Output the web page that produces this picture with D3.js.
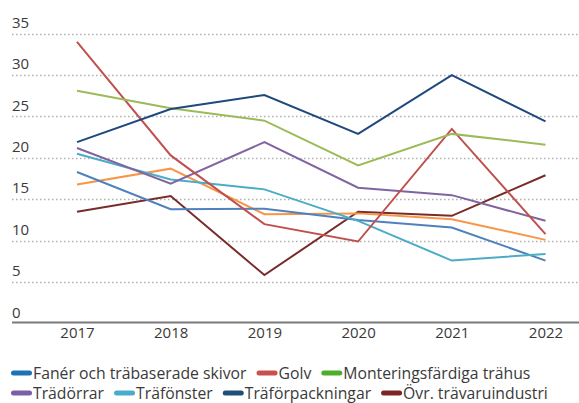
<!DOCTYPE html>
<html>
<head>
<meta charset="utf-8">
<script src="https://cdn.jsdelivr.net/npm/d3@7"></script>
<style>
  body { margin: 0; background: #fff; }
  svg { display: block; font-family: "Open Sans", Roboto, sans-serif; }
</style>
</head>
<body>
<svg width="579" height="403"></svg>
<script>
var years = ["2017", "2018", "2019", "2020", "2021", "2022"];
var yTicks = [0, 5, 10, 15, 20, 25, 30, 35];

var faner = [18.3, 13.8, 13.85, 12.5, 11.6, 7.6];
var golv = [34.0, 20.3, 12.0, 9.9, 23.5, 10.8];
var montering = [28.1, 26.0, 24.5, 19.1, 22.9, 21.6];
var tradorrar = [21.2, 16.9, 21.9, 16.4, 15.5, 12.4];
var trafonster = [20.5, 17.4, 16.2, 12.4, 7.6, 8.4];
var traforpack = [21.9, 25.9, 27.6, 22.9, 30.0, 24.4];
var ovrigt = [13.5, 15.4, 5.85, 13.5, 13.0, 17.9];
var orange = [16.8, 18.7, 13.2, 13.3, 12.6, 10.1]; // line without a legend entry

// draw order: back to front
var series = [
    { name: "Övr. trävaruindustri", values: ovrigt, line: "#772c2a", key: "#7b2525" },
    { name: "", values: orange, line: "#f79646", key: null },
    { name: "Fanér och träbaserade skivor", values: faner, line: "#4f81bd", key: "#1a73b8" },
    { name: "Träfönster", values: trafonster, line: "#4bacc6", key: "#4aaccc" },
    { name: "Trädörrar", values: tradorrar, line: "#8064a2", key: "#7a5ea8" },
    { name: "Golv", values: golv, line: "#c0504d", key: "#c9504f" },
    { name: "Monteringsfärdiga trähus", values: montering, line: "#9bbb59", key: "#4cae2a" },
    { name: "Träförpackningar", values: traforpack, line: "#1f497d", key: "#1f4e79" }
];

var legendRows = [
    ["Fanér och träbaserade skivor", "Golv", "Monteringsfärdiga trähus"],
    ["Trädörrar", "Träfönster", "Träförpackningar", "Övr. trävaruindustri"]
];

var svg = d3.select("svg");

var x = d3.scalePoint()
    .domain(years)
    .range([77, 545.5]);

var y = d3.scaleLinear()
    .domain([0, 35])
    .range([323.5, 33.7]);

// dotted grid lines, labels sit above them
var grid = svg.append("g");
grid.selectAll("line")
    .data(yTicks.filter(function(d) { return d > 0; }))
    .enter().append("line")
    .attr("x1", 12)
    .attr("x2", 579)
    .attr("y1", function(d) { return Math.round(y(d)) + 0.5; })
    .attr("y2", function(d) { return Math.round(y(d)) + 0.5; })
    .attr("stroke", "#b0b0b0")
    .attr("stroke-width", 1.5)
    .attr("stroke-dasharray", "1.5,2.5");

grid.selectAll("text")
    .data(yTicks)
    .enter().append("text")
    .attr("x", 12)
    .attr("y", function(d) { return y(d) - 6; })
    .attr("font-size", 15)
    .attr("fill", "#3a3a3a")
    .text(function(d) { return d; });

// x axis
svg.append("g")
    .attr("transform", "translate(0,322.5)")
    .call(d3.axisBottom(x).tickSize(0).tickPadding(5))
    .call(function(g) {
        g.select(".domain")
            .attr("d", "M12,0H579")
            .attr("stroke", "#7a7a7a")
            .attr("stroke-width", 2);
        g.selectAll("text")
            .attr("font-size", 15)
            .attr("font-family", "'Open Sans', sans-serif")
            .attr("fill", "#3a3a3a");
    });

var line = d3.line()
    .x(function(d, i) { return x(years[i]); })
    .y(function(d) { return y(d); });

svg.append("g").selectAll("path")
    .data(series)
    .enter().append("path")
    .attr("d", function(d) { return line(d.values); })
    .attr("fill", "none")
    .attr("stroke", function(d) { return d.line; })
    .attr("stroke-width", 2)
    .attr("stroke-linejoin", "miter");

// legend
var lookup = {};
series.forEach(function(s) { lookup[s.name] = s; });
var rowY = [378.5, 398.5];

legendRows.forEach(function(row, r) {
    var cx = 11;
    row.forEach(function(name) {
        var g = svg.append("g").attr("transform", "translate(" + cx + "," + rowY[r] + ")");
        g.append("line")
            .attr("x1", 2.5).attr("x2", 18.5)
            .attr("y1", -5.5).attr("y2", -5.5)
            .attr("stroke", lookup[name].key)
            .attr("stroke-width", 5)
            .attr("stroke-linecap", "round");
        var t = g.append("text")
            .attr("x", 22)
            .attr("font-size", 15.75)
            .attr("fill", "#3a3a3a")
            .text(name);
        cx += 22 + t.node().getComputedTextLength() + 10;
    });
});
</script>
</body>
</html>
